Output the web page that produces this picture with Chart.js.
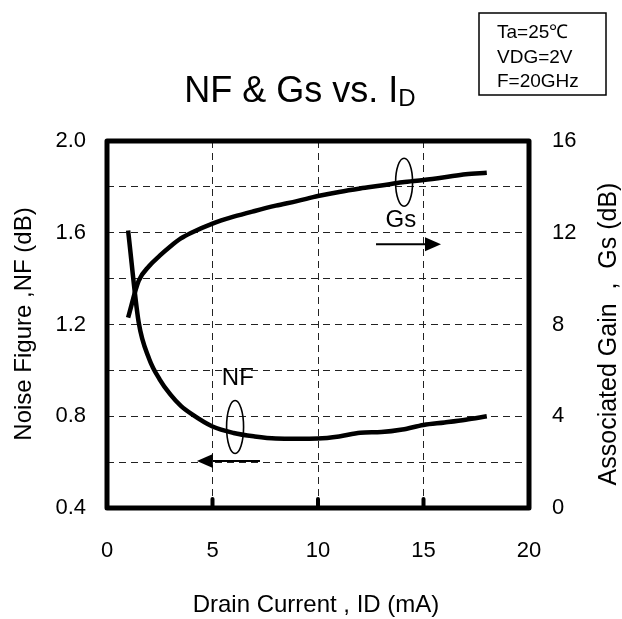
<!DOCTYPE html>
<html>
<head>
<meta charset="utf-8">
<script src="https://cdn.jsdelivr.net/npm/chart.js@4.4.1/dist/chart.umd.min.js"></script>
<style>
  html, body { margin: 0; padding: 0; background: #fff; }
  canvas { display: block; }
</style>
</head>
<body>
<canvas id="chart" width="622" height="619"></canvas>
<script>
// values (ID in mA)
const drainCurrent = [1, 1.5, 2, 2.5, 3, 3.5, 4, 5, 6, 7, 8, 9, 10, 11, 12, 13, 14, 15, 16, 17, 18];
const noiseFigure = [1.61, 1.21, 1.05, 0.96, 0.895, 0.845, 0.81, 0.755, 0.727, 0.712, 0.703, 0.702, 0.703, 0.712, 0.728, 0.731, 0.742, 0.762, 0.773, 0.785, 0.80];
const assocGain = [8.3, 9.9, 10.55, 11.0, 11.4, 11.75, 12.0, 12.4, 12.7, 12.95, 13.18, 13.38, 13.6, 13.78, 13.93, 14.06, 14.2, 14.3, 14.42, 14.55, 14.62];

const xTickLabels = [0, 5, 10, 15, 20];
const nfTickLabels = [0.4, 0.8, 1.2, 1.6, 2.0];
const gsTickLabels = [0, 4, 8, 12, 16];

const conditions = ['Ta=25\u2103', 'VDG=2V', 'F=20GHz'];

const FONT = "'Liberation Sans', Arial, sans-serif";

const toPoints = (ys) => drainCurrent.map((x, i) => ({ x: x, y: ys[i] }));
const near = (v, list) => list.some(t => Math.abs(t - v) < 1e-6);

// frame, tick stubs, ellipses, arrows and all free text
const decor = {
  id: 'decor',
  afterDatasetsDraw(chart) {
    const { ctx, chartArea: a, scales } = chart;
    const x = scales.x, yl = scales.y, yr = scales.y2;
    ctx.save();

    // small tick stubs along the bottom edge
    ctx.strokeStyle = '#000';
    ctx.lineWidth = 4;
    ctx.lineCap = 'round';
    [5, 10, 15].forEach(v => {
      const px = x.getPixelForValue(v);
      ctx.beginPath();
      ctx.moveTo(px, a.bottom);
      ctx.lineTo(px, a.bottom - 9);
      ctx.stroke();
    });

    // thick frame
    ctx.lineCap = 'butt';
    ctx.lineJoin = 'round';
    ctx.lineWidth = 5;
    ctx.strokeRect(a.left, a.top, a.right - a.left, a.bottom - a.top);

    // ellipses
    ctx.lineWidth = 1.6;
    const ell = (cx, cy, rx, ry) => {
      ctx.beginPath();
      ctx.ellipse(cx, cy, rx, ry, 0, 0, Math.PI * 2);
      ctx.stroke();
    };
    ell(x.getPixelForValue(14.08), yr.getPixelForValue(14.2), 8.5, 24);
    ell(x.getPixelForValue(6.07), yl.getPixelForValue(0.753), 8.5, 26.5);

    // arrows
    const arrow = (x0, x1, y) => {
      const dir = Math.sign(x1 - x0);
      const headLen = 16;
      ctx.lineWidth = 2;
      ctx.beginPath();
      ctx.moveTo(x0, y);
      ctx.lineTo(x1 - dir * headLen, y);
      ctx.stroke();
      ctx.beginPath();
      ctx.moveTo(x1, y);
      ctx.lineTo(x1 - dir * headLen, y - 7);
      ctx.lineTo(x1 - dir * headLen, y + 7);
      ctx.closePath();
      ctx.fill();
    };
    arrow(x.getPixelForValue(12.75), x.getPixelForValue(15.83), yr.getPixelForValue(11.5));
    arrow(x.getPixelForValue(7.25), x.getPixelForValue(4.26), yl.getPixelForValue(0.605));

    // curve labels
    ctx.fillStyle = '#000';
    ctx.font = '24px ' + FONT;
    ctx.textAlign = 'center';
    ctx.textBaseline = 'alphabetic';
    ctx.fillText('Gs', x.getPixelForValue(13.93), yr.getPixelForValue(12.25));
    ctx.fillText('NF', x.getPixelForValue(6.2), yl.getPixelForValue(0.936));

    ctx.restore();
  },
  afterDraw(chart) {
    const { ctx } = chart;
    ctx.save();
    ctx.fillStyle = '#000';
    ctx.strokeStyle = '#000';

    // title with subscript
    ctx.textBaseline = 'alphabetic';
    ctx.textAlign = 'left';
    ctx.font = '36px ' + FONT;
    const main = 'NF & Gs vs. I';
    const wMain = ctx.measureText(main).width;
    ctx.font = '24px ' + FONT;
    const wSub = ctx.measureText('D').width;
    let tx = 300 - (wMain + wSub) / 2;
    ctx.font = '36px ' + FONT;
    ctx.fillText(main, tx, 102);
    ctx.font = '24px ' + FONT;
    ctx.fillText('D', tx + wMain, 106);

    // conditions box
    ctx.lineWidth = 1.5;
    ctx.strokeRect(479, 13, 127, 82);
    ctx.font = '19px ' + FONT;
    conditions.forEach((t, i) => ctx.fillText(t, 497, 38 + i * 24.5));

    // axis titles
    ctx.font = '24px ' + FONT;
    ctx.textAlign = 'center';
    ctx.fillText('Drain Current , ID (mA)', 316, 612);

    ctx.save();
    ctx.translate(31, 324);
    ctx.rotate(-Math.PI / 2);
    ctx.fillText('Noise Figure ,NF (dB)', 0, 0);
    ctx.restore();

    ctx.save();
    ctx.font = '25px ' + FONT;
    ctx.translate(616, 334);
    ctx.rotate(-Math.PI / 2);
    ctx.fillText('Associated Gain  ,  Gs (dB)', 0, 0);
    ctx.restore();

    ctx.restore();
  }
};

const gridDash = [7, 5];

new Chart(document.getElementById('chart'), {
  type: 'line',
  data: {
    datasets: [
      {
        label: 'NF',
        data: toPoints(noiseFigure),
        yAxisID: 'y',
        borderColor: '#000',
        borderWidth: 4.5,
        pointRadius: 0,
        cubicInterpolationMode: 'monotone',
        fill: false
      },
      {
        label: 'Gs',
        data: toPoints(assocGain),
        yAxisID: 'y2',
        borderColor: '#000',
        borderWidth: 4.5,
        pointRadius: 0,
        cubicInterpolationMode: 'monotone',
        fill: false
      }
    ]
  },
  options: {
    responsive: false,
    animation: false,
    events: [],
    layout: { padding: { top: 141, left: 0, right: 0, bottom: 0 } },
    plugins: {
      legend: { display: false },
      title: { display: false },
      tooltip: { enabled: false }
    },
    scales: {
      x: {
        type: 'linear',
        min: 0,
        max: 20,
        afterBuildTicks: (s) => { s.ticks = xTickLabels.map(v => ({ value: v })); },
        afterFit: (s) => { s.height = 111; },
        ticks: {
          color: '#000',
          font: { family: FONT, size: 22 },
          padding: 30,
          maxRotation: 0,
          callback: (v) => String(v)
        },
        grid: {
          drawTicks: false,
          color: (c) => (c.tick && (c.tick.value === 0 || c.tick.value === 20)) ? 'rgba(0,0,0,0)' : '#222',
          lineWidth: 1
        },
        border: { display: false, dash: gridDash }
      },
      y: {
        position: 'left',
        min: 0.4,
        max: 2.0,
        ticks: {
          stepSize: 0.2,
          color: '#000',
          font: { family: FONT, size: 22 },
          padding: 21,
          callback: (v) => near(v, nfTickLabels) ? v.toFixed(1) : ''
        },
        afterFit: (s) => { s.width = 107; },
        grid: {
          drawTicks: false,
          color: (c) => (c.tick && (near(c.tick.value, [0.4, 2.0]))) ? 'rgba(0,0,0,0)' : '#222',
          lineWidth: 1
        },
        border: { display: false, dash: gridDash }
      },
      y2: {
        position: 'right',
        min: 0,
        max: 16,
        ticks: {
          stepSize: 2,
          color: '#000',
          font: { family: FONT, size: 22 },
          padding: 23,
          callback: (v) => near(v, gsTickLabels) ? String(v) : ''
        },
        afterFit: (s) => { s.width = 93; },
        grid: { drawOnChartArea: false, drawTicks: false },
        border: { display: false }
      }
    }
  },
  plugins: [decor]
});
</script>
</body>
</html>
